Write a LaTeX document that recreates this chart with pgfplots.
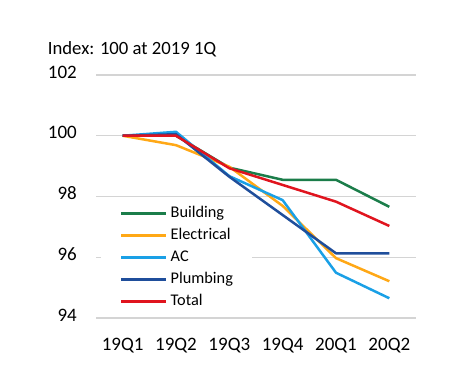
\documentclass[border=0pt]{standalone}
\usepackage{fontspec}
\setmainfont{Carlito}
\usepackage{pgfplots}
\pgfplotsset{compat=1.18}
\definecolor{cBuild}{HTML}{1B7D4A}
\definecolor{cElec}{HTML}{FFA816}
\definecolor{cAC}{HTML}{1AA0E6}
\definecolor{cPlumb}{HTML}{1F4E9B}
\definecolor{cTotal}{HTML}{E0141E}
\definecolor{cGrid}{HTML}{D4D4D4}
\begin{document}
\begin{tikzpicture}
\useasboundingbox (0,0) rectangle (465bp,390bp);
\node[anchor=base west, inner sep=0pt, font=\fontsize{18.7bp}{22bp}\selectfont] at (47.7bp,335bp) {Index: 100 at 2019 1Q};
\begin{axis}[
  at={(96bp,72bp)}, anchor=south west,
  scale only axis, width=320bp, height=243bp,
  xmin=-0.5, xmax=5.5, ymin=94, ymax=102,
  xtick={0,1,2,3,4,5},
  xticklabels={19Q1,19Q2,19Q3,19Q4,20Q1,20Q2},
  ytick={94,96,98,100,102},
  ymajorgrids, major grid style={color=cGrid, line width=1.2bp},
  axis line style={draw=none}, tick style={draw=none},
  /pgf/number format/assume math mode=true,
  ticklabel style={font=\fontsize{19bp}{22bp}\selectfont, inner sep=0pt},
  yticklabel style={xshift=-19bp, yshift=3bp},
  xticklabel style={yshift=-20bp},
  legend cell align=left,
  legend image code/.code={\draw[#1] (0bp,0bp) -- (45bp,0bp);},
  legend style={at={(rel axis cs:0.0156,0.473)}, anchor=north west, draw=none, fill=white,
    inner xsep=19bp, inner ysep=2bp, row sep=6bp, column sep=0bp,
    font=\fontsize{16.3bp}{18bp}\selectfont,
    nodes={inner sep=0pt, text height=12bp, text depth=4bp},
    /tikz/every odd column/.style={column sep=3bp},
    /tikz/every even column/.style={column sep=0bp}},
  every axis plot/.append style={line width=2.5bp, line join=round},
]
\addplot[cBuild] coordinates {(0,100) (1,100) (2,98.95) (3,98.55) (4,98.55) (5,97.66)};
\addlegendentry{Building}
\addplot[cElec] coordinates {(0,100) (1,99.69) (2,98.98) (3,97.69) (4,95.97) (5,95.21)};
\addlegendentry{Electrical}
\addplot[cAC] coordinates {(0,100) (1,100.13) (2,98.67) (3,97.88) (4,95.49) (5,94.65)};
\addlegendentry{AC}
\addplot[cPlumb] coordinates {(0,100) (1,100.05) (2,98.65) (3,97.39) (4,96.13) (5,96.13)};
\addlegendentry{Plumbing}
\addplot[cTotal] coordinates {(0,100) (1,100) (2,98.93) (3,98.38) (4,97.83) (5,97.03)};
\addlegendentry{Total}
\end{axis}
\end{tikzpicture}
\end{document}
